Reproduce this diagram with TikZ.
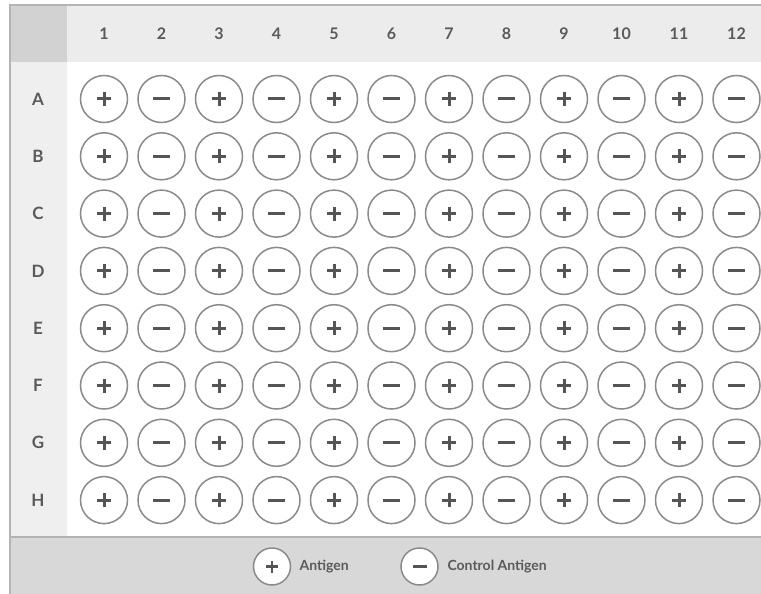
\documentclass[tikz,border=0pt]{standalone}
\usepackage{fontspec}
\setmainfont{Lato}
\definecolor{hdr}{HTML}{ECECEC}
\definecolor{corner}{HTML}{D2D2D2}
\definecolor{leftcol}{HTML}{EFEFEF}
\definecolor{band}{HTML}{D8D8D8}
\definecolor{frame}{HTML}{B4B4B4}
\definecolor{ring}{HTML}{8A8A8A}
\definecolor{sign}{HTML}{555555}
\definecolor{lbl}{HTML}{5A5A5A}
\tikzset{
  well/.style={circle, draw=ring, line width=1.5pt, fill=white, minimum size=47pt, inner sep=0pt},
  legwell/.style={circle, draw=ring, line width=1.5pt, fill=white, minimum size=37pt, inner sep=0pt},
  signline/.style={draw=sign, line width=3pt},
  collbl/.style={text=lbl, font=\bfseries\fontsize{16}{18}\selectfont},
  rowlbl/.style={text=lbl, font=\bfseries\fontsize{17}{19}\selectfont},
  legtext/.style={text=lbl, font=\bfseries\fontsize{14}{16}\selectfont, anchor=west},
}
\begin{document}
\begin{tikzpicture}[x=1pt,y=-1pt]
\useasboundingbox (0,0) rectangle (761,594);
\fill[white] (0,0) rectangle (761,594);
% areas
\fill[hdr] (10,5) rectangle (761,62.5);
\fill[leftcol] (10,62.5) rectangle (67,537);
\fill[corner] (10,5) rectangle (67,62.5);
\fill[band] (10,537) rectangle (761,594);
\draw[frame, line width=2pt] (761,5) -- (10,5) -- (10,594);
\draw[frame, line width=1.5pt] (10,537) -- (761,537);
% column labels
\foreach \c in {1,...,12}{
  \node[collbl] (col\c) at ({104+57.5*(\c-1)},34) {\c};
}
% rows
\foreach \r/\L [count=\i] in {A/A,B/B,C/C,D/D,E/E,F/F,G/G,H/H}{
  \node[rowlbl] (row\L) at (38,{99+57.3*(\i-1)}) {\L};
  \foreach \c in {1,...,12}{
    \pgfmathsetmacro{\xx}{104+57.5*(\c-1)}
    \pgfmathsetmacro{\yy}{99+57.3*(\i-1)}
    \node[well] (w\L\c) at (\xx,\yy) {};
    \pgfmathtruncatemacro{\odd}{mod(\c,2)}
    \ifnum\odd=1
      \draw[signline] ([xshift=-7pt]w\L\c.center) -- ([xshift=7pt]w\L\c.center);
      \draw[signline] ([yshift=-7pt]w\L\c.center) -- ([yshift=7pt]w\L\c.center);
    \else
      \draw[signline] ([xshift=-8.5pt]w\L\c.center) -- ([xshift=8.5pt]w\L\c.center);
    \fi
  }
}
% legend
\node[legwell] (legplus) at (272,566.5) {};
\draw[signline, line width=2.5pt] ([xshift=-6pt]legplus.center) -- ([xshift=6pt]legplus.center);
\draw[signline, line width=2.5pt] ([yshift=-6pt]legplus.center) -- ([yshift=6pt]legplus.center);
\node[legtext] (legplustext) at (296,566.5) {Antigen};
\node[legwell] (legminus) at (419.5,566.5) {};
\draw[signline, line width=2.5pt] ([xshift=-7pt]legminus.center) -- ([xshift=7pt]legminus.center);
\node[legtext] (legminustext) at (444,566.5) {Control Antigen};
\end{tikzpicture}
\end{document}
